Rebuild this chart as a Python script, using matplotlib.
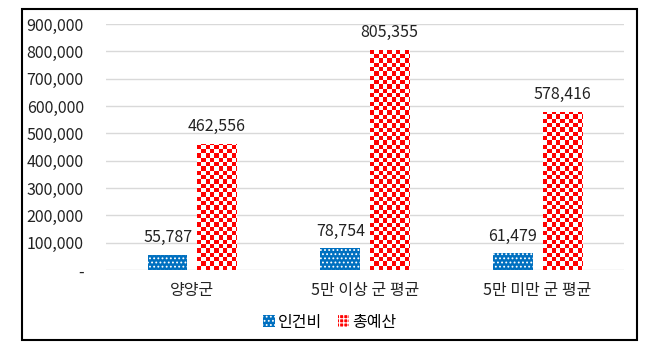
import numpy as np
import matplotlib.pyplot as plt
from matplotlib.patches import Rectangle
from matplotlib.colors import ListedColormap
from matplotlib.ticker import FuncFormatter

plt.rcParams['font.family'] = ['Noto Sans CJK KR', 'DejaVu Sans']
plt.rcParams['hatch.linewidth'] = 0.8

categories = ['양양군', '5만 이상 군 평균', '5만 미만 군 평균']
labor = [55787, 78754, 61479]
total = [462556, 805355, 578416]
series_names = ['인건비', '총예산']

blue = '#0070C0'
red = '#FF0000'
fs = 11.5

fig = plt.figure(figsize=(6.6, 3.51), dpi=100)
ax = fig.add_axes([106 / 660, 1 - 270 / 351, 518 / 660, 246 / 351])

x = np.arange(len(categories))
w = 0.23
off = 0.143

b1 = ax.bar(x - off, labor, w, color=blue, edgecolor='white', linewidth=0,
            hatch='....', label=series_names[0], zorder=3)
b2 = ax.bar(x + off, total, w, color='white', edgecolor=red, linewidth=0,
            label=series_names[1], zorder=3)

# checkerboard fill for total budget bars, clipped to each bar
ax.set_xlim(-0.5, 2.5)
ax.set_ylim(0, 900000)
px_x = 518 / 3.0          # pixels per x unit
px_y = 246 / 900000.0     # pixels per y unit
cell = 4.3
checker = ListedColormap([red, 'white'])
for rect in b2:
    x0, y0 = rect.get_x(), rect.get_y()
    rw, rh = rect.get_width(), rect.get_height()
    nx = int(np.ceil(rw * px_x / cell))
    ny = int(np.ceil(rh * px_y / cell))
    board = (np.add.outer(np.arange(ny), np.arange(nx)) % 2).astype(float)
    ext_w = nx * cell / px_x
    ext_h = ny * cell / px_y
    im = ax.imshow(board, cmap=checker, extent=[x0, x0 + ext_w, y0, y0 + ext_h],
                   origin='lower', aspect='auto', interpolation='nearest', zorder=4)
    im.set_clip_path(rect)
ax.set_xlim(-0.5, 2.5)
ax.set_ylim(0, 900000)

for bars, vals in ((b1, labor), (b2, total)):
    for r, v in zip(bars, vals):
        ax.text(r.get_x() + r.get_width() / 2, v + 62000, f'{v:,}',
                ha='center', va='center', fontsize=fs, color='#222222', zorder=5)

ax.set_yticks(np.arange(0, 900001, 100000))
ax.yaxis.set_major_formatter(FuncFormatter(lambda v, p: '-' if v == 0 else f'{int(v):,}'))
ax.set_xticks(x)
ax.set_xticklabels(categories)
ax.tick_params(axis='both', length=0, labelsize=fs, colors='#222222')
ax.tick_params(axis='y', pad=16)
ax.tick_params(axis='x', pad=9)
ax.grid(axis='y', color='#D9D9D9', linewidth=1, zorder=0)
for s in ax.spines.values():
    s.set_visible(False)

# legend handles
h1 = Rectangle((0, 0), 1, 1, facecolor=blue, edgecolor='white', linewidth=0, hatch='....')
h2 = Rectangle((0, 0), 1, 1, facecolor=red, edgecolor='white', linewidth=0, hatch='++++')
fig.legend([h1, h2], series_names, loc='center', bbox_to_anchor=(0.5, 1 - 322 / 351),
           ncol=2, frameon=False, fontsize=fs, handlelength=0.7, handleheight=0.7,
           handletextpad=0.2, columnspacing=1.0)

fig.patches.append(Rectangle((22 / 660, 1 - 340 / 351), 615 / 660, 331 / 351,
                             transform=fig.transFigure, fill=False,
                             edgecolor='black', linewidth=1.5))

fig.savefig('out.png', dpi=100)
